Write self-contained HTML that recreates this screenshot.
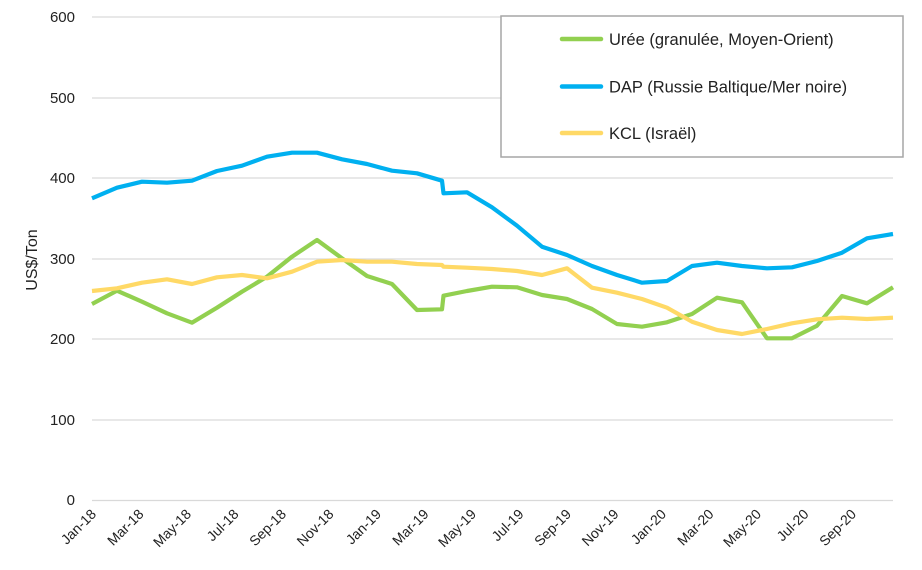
<!DOCTYPE html>
<html><head><meta charset="utf-8"><style>body{margin:0;background:#fff}svg{display:block;font-family:"Liberation Sans",sans-serif}</style></head><body>
<svg width="922" height="570" viewBox="0 0 922 570">
<g stroke="#d9d9d9" stroke-width="1.3">
<line x1="92" y1="17" x2="893" y2="17"/><line x1="92" y1="98" x2="893" y2="98"/><line x1="92" y1="178" x2="893" y2="178"/><line x1="92" y1="259" x2="893" y2="259"/><line x1="92" y1="339" x2="893" y2="339"/><line x1="92" y1="420" x2="893" y2="420"/><line x1="92" y1="500.5" x2="893" y2="500.5"/>
</g>
<g font-size="15" fill="#222" text-anchor="end">
<text x="75" y="22">600</text><text x="75" y="103">500</text><text x="75" y="183">400</text><text x="75" y="264">300</text><text x="75" y="344">200</text><text x="75" y="425">100</text><text x="75" y="505">0</text>
</g>
<text transform="translate(37,260) rotate(-90)" font-size="16" fill="#222" text-anchor="middle">US$/Ton</text>
<g font-size="14" fill="#222" text-anchor="end">
<text transform="translate(97,515) rotate(-45)">Jan-18</text>
<text transform="translate(144.5,515) rotate(-45)">Mar-18</text>
<text transform="translate(192,515) rotate(-45)">May-18</text>
<text transform="translate(239.5,515) rotate(-45)">Jul-18</text>
<text transform="translate(287,515) rotate(-45)">Sep-18</text>
<text transform="translate(334.5,515) rotate(-45)">Nov-18</text>
<text transform="translate(382,515) rotate(-45)">Jan-19</text>
<text transform="translate(429.5,515) rotate(-45)">Mar-19</text>
<text transform="translate(477,515) rotate(-45)">May-19</text>
<text transform="translate(524.5,515) rotate(-45)">Jul-19</text>
<text transform="translate(572,515) rotate(-45)">Sep-19</text>
<text transform="translate(619.5,515) rotate(-45)">Nov-19</text>
<text transform="translate(667,515) rotate(-45)">Jan-20</text>
<text transform="translate(714.5,515) rotate(-45)">Mar-20</text>
<text transform="translate(762,515) rotate(-45)">May-20</text>
<text transform="translate(809.5,515) rotate(-45)">Jul-20</text>
<text transform="translate(857,515) rotate(-45)">Sep-20</text>
</g>
<g fill="none" stroke-width="4.2" stroke-linejoin="round">
<polyline stroke="#00b0f0" points="92,198.3 117,187.7 142,181.7 167,182.7 192,180.7 217,171 242,165.7 267,156.7 292,152.7 317,152.7 342,159.3 367,164 392,170.7 417,173.3 442,180.7 443.5,193.3 467,192.3 492,207.3 517,225.7 542,246.7 567,255 592,266 617,275 642,282.7 667,281 692,266 717,262.7 742,266 767,268.3 792,267.3 817,261 842,252.7 867,238.3 893,234"/>
<polyline stroke="#92d050" points="92,304 117,290.7 142,301.7 167,313.3 192,322.7 217,307.7 242,291.7 267,276.7 292,256.7 317,240 342,258.3 367,276 392,284 417,310 442,309.3 443.5,295.7 467,291 492,286.7 517,287.3 542,295 567,299 592,309 617,324 642,326.7 667,322.3 692,314 717,297.7 742,302.3 767,338.3 792,338.3 817,325.7 842,296 867,303.3 893,287.3"/>
<polyline stroke="#ffd966" points="92,291 117,288.3 142,282.7 167,279.3 192,284 217,277.3 242,275 267,278.3 292,271.7 317,261.7 342,260 367,261.7 392,261.7 417,264 442,265 443.5,266.7 467,267.7 492,269 517,271 542,275 567,268.3 592,287.7 617,292.7 642,299 667,307.7 692,321.7 717,330 742,334 767,329 792,323.3 817,319.3 842,317.7 867,319 893,317.7"/>
</g>
<rect x="501" y="16" width="402" height="141" fill="#fff" stroke="#a6a6a6" stroke-width="1.5"/>
<g stroke-width="4.5" stroke-linecap="round">
<line x1="562" y1="39" x2="601" y2="39" stroke="#92d050"/>
<line x1="562" y1="86.5" x2="601" y2="86.5" stroke="#00b0f0"/>
<line x1="562" y1="133" x2="601" y2="133" stroke="#ffd966"/>
</g>
<g font-size="16.5" fill="#222">
<text x="609" y="45">Urée (granulée, Moyen-Orient)</text>
<text x="609" y="92.5">DAP (Russie Baltique/Mer noire)</text>
<text x="609" y="139">KCL (Israël)</text>
</g>
</svg>
</body></html>
